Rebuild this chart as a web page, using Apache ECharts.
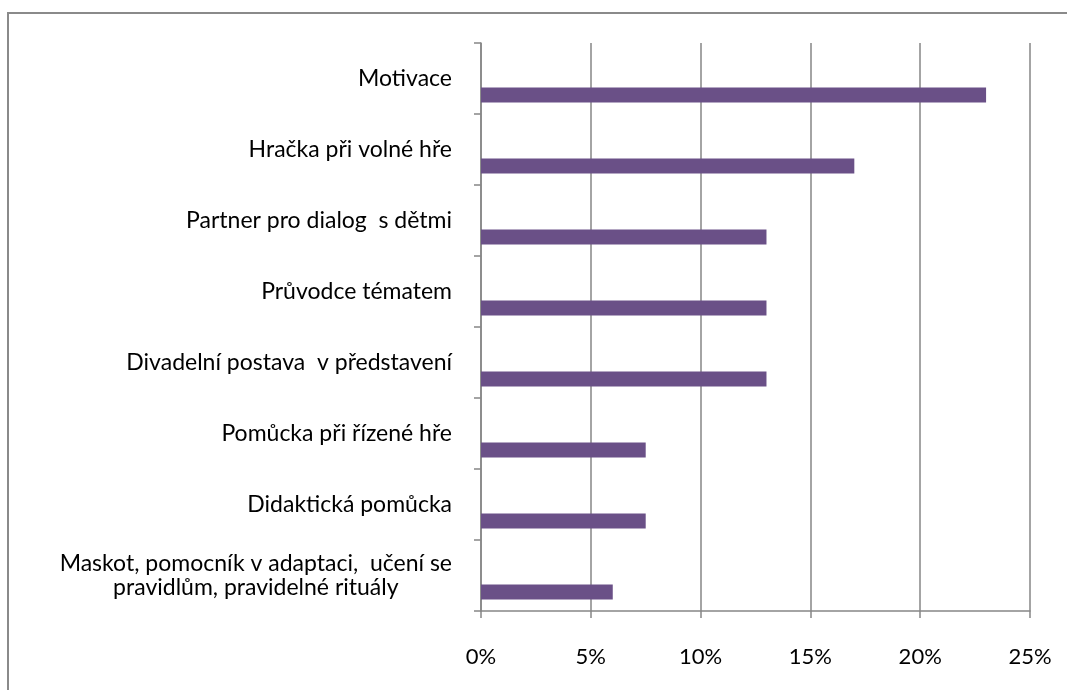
<!DOCTYPE html>
<html>
<head>
<meta charset="utf-8">
<script src="https://cdn.jsdelivr.net/npm/echarts@6/dist/echarts.min.js"></script>
<style>
html, body { margin: 0; padding: 0; background: #fff; }
#chart { width: 1067px; height: 690px; }
</style>
</head>
<body>
<div id="chart"></div>
<script>
// kategorie shora dolu
var categories = [
    'Motivace',
    'Hračka při volné hře',
    'Partner pro dialog  s dětmi',
    'Průvodce tématem',
    'Divadelní postava  v představení',
    'Pomůcka při řízené hře',
    'Didaktická pomůcka',
    'Maskot, pomocník v adaptaci,  učení se\npravidlům, pravidelné rituály'
];
// podil v procentech
var values = [23, 17, 13, 13, 13, 7.5, 7.5, 6];
var xTicks = [0, 5, 10, 15, 20, 25];

var gridColor = '#868686';
var font = 'Lato, "Noto Sans", sans-serif';

var myChart = echarts.init(document.getElementById('chart'));
myChart.setOption({
    animation: false,
    textStyle: { fontFamily: font },
    graphic: [{
        type: 'rect',
        shape: { x: 8, y: 13, width: 1200, height: 900 },
        style: { fill: 'none', stroke: '#8a8a8a', lineWidth: 2 },
        silent: true
    }],
    grid: { left: 481, right: 37, top: 43, bottom: 79 },
    xAxis: {
        type: 'value',
        min: xTicks[0],
        max: xTicks[xTicks.length - 1],
        interval: 5,
        axisLine: { show: true, lineStyle: { color: gridColor, width: 1.5 } },
        axisTick: { show: true, length: 7, lineStyle: { color: gridColor, width: 1.5 } },
        splitLine: { show: true, lineStyle: { color: gridColor, width: 1.5 } },
        axisLabel: {
            margin: 35,
            color: '#000',
            fontSize: 22,
            fontFamily: font,
            formatter: function (v) { return v + '%'; }
        }
    },
    yAxis: {
        type: 'category',
        inverse: true,
        data: categories,
        axisLine: { show: true, lineStyle: { color: gridColor, width: 1.5 } },
        axisTick: { show: true, length: 7, lineStyle: { color: gridColor, width: 1.5 } },
        axisLabel: {
            margin: 29,
            color: '#000',
            fontSize: 23,
            lineHeight: 24,
            align: 'right',
            fontFamily: font,
            // radky dvouradkoveho popisku centrovat mezi sebou
            formatter: function (v) {
                return v.split('\n').map(function (s) { return '{c|' + s + '}'; }).join('\n');
            },
            rich: {
                c: { align: 'center', fontSize: 23, lineHeight: 24, color: '#000', fontFamily: font }
            }
        }
    },
    series: [{
        // prazdna rada jen kvuli posunu sloupcu dolu
        type: 'bar',
        data: values.map(function () { return null; }),
        barWidth: 15,
        barGap: '120%',
        silent: true
    }, {
        type: 'bar',
        data: values,
        barWidth: 15,
        barGap: '120%',
        itemStyle: { color: '#6A5087' }
    }]
});
</script>
</body>
</html>
